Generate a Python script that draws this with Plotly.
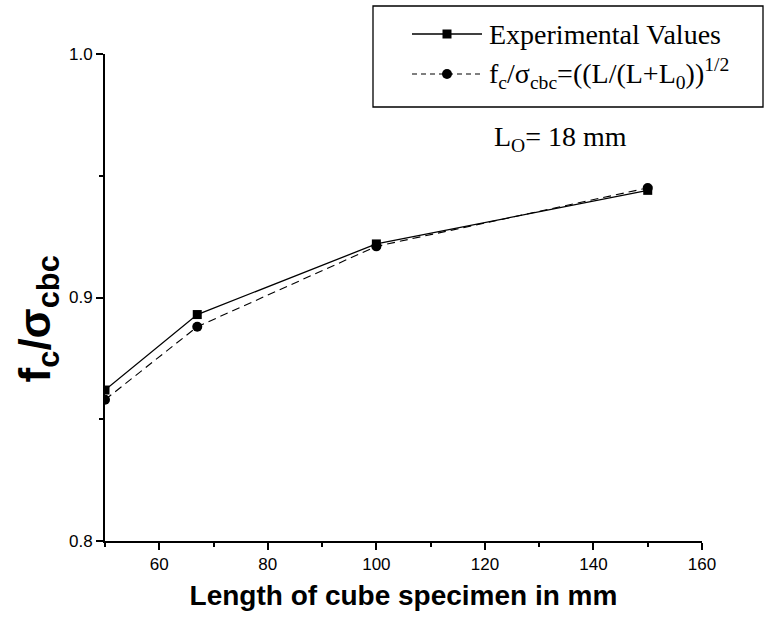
import plotly.graph_objects as go

# Data
length_mm = [50, 67, 100, 150]
experimental = [0.862, 0.893, 0.922, 0.944]
formula_vals = [0.858, 0.888, 0.921, 0.945]

x_ticks = [60, 80, 100, 120, 140, 160]
y_ticks = [0.8, 0.9, 1.0]

series_names = [
    "Experimental Values",
    "f<sub>c</sub>/σ<sub>cbc</sub>=((L/(L+L<sub>0</sub>))<sup>1/2</sup>",
]

serif = "Liberation Serif, Times New Roman, serif"
sans = "Liberation Sans, Arial, sans-serif"

W, H = 764, 623
ML, MR, MT, MB = 105, 62, 54, 82
PW, PH = W - ML - MR, H - MT - MB


def px_x(p):
    return (p - ML) / PW


def px_y(p):
    return 1 - (p - MT) / PH


DASH = "8px,5px"

fig = go.Figure()
fig.add_trace(go.Scatter(
    x=length_mm, y=experimental, mode="lines+markers",
    name=series_names[0], showlegend=False,
    line=dict(color="black", width=1.3),
    marker=dict(symbol="square", size=9, color="black"),
))
fig.add_trace(go.Scatter(
    x=length_mm, y=formula_vals, mode="lines+markers",
    name=series_names[1], showlegend=False,
    line=dict(color="black", width=1.1, dash=DASH),
    marker=dict(symbol="circle", size=10, color="black"),
))

# Legend box drawn as in the reference (long symbol lines, framed box)
row_y = [34, 74]
shapes = [
    dict(type="rect", xref="paper", yref="paper",
         x0=px_x(373), x1=px_x(763), y0=px_y(107), y1=px_y(6),
         line=dict(color="black", width=1.3), fillcolor="white", layer="above"),
]
annotations = []
for i, ry in enumerate(row_y):
    shapes.append(dict(type="line", xref="paper", yref="paper",
                       x0=px_x(412), x1=px_x(482), y0=px_y(ry), y1=px_y(ry),
                       line=dict(color="black", width=1.3 if i == 0 else 1.1,
                                 dash="solid" if i == 0 else "5px,4px"),
                       layer="above"))
    half = 4.5 if i == 0 else 5
    shapes.append(dict(type="rect" if i == 0 else "circle",
                       xref="paper", yref="paper",
                       xsizemode="pixel", ysizemode="pixel",
                       xanchor=px_x(447), yanchor=px_y(ry),
                       x0=-half, x1=half, y0=-half, y1=half,
                       line=dict(color="black", width=0), fillcolor="black",
                       layer="above"))
    annotations.append(dict(text=series_names[i], xref="paper", yref="paper",
                            x=px_x(487), y=px_y(ry), xanchor="left", yanchor="middle",
                            showarrow=False,
                            font=dict(family=serif, size=28, color="black")))

annotations += [
    dict(text="<b>f<sub>c</sub>/σ<sub>cbc</sub></b>", textangle=-90,
         xref="paper", yref="paper", x=px_x(38), y=0.455,
         xanchor="center", yanchor="middle", showarrow=False,
         font=dict(family=sans, size=44, color="black")),
    dict(text="L<sub>O</sub>= 18 mm",
         xref="paper", yref="paper", x=px_x(560), y=px_y(138),
         xanchor="center", yanchor="middle", showarrow=False,
         font=dict(family=serif, size=28, color="black")),
]

fig.update_layout(
    width=W, height=H,
    margin=dict(l=ML, r=MR, t=MT, b=MB),
    paper_bgcolor="white", plot_bgcolor="white",
    showlegend=False,
    xaxis=dict(
        range=[50, 160], tickvals=x_ticks,
        showgrid=False, zeroline=False,
        showline=True, linecolor="black", linewidth=2,
        ticks="outside", ticklen=7, tickwidth=2, tickcolor="black",
        minor=dict(dtick=10, tick0=50, ticks="outside", ticklen=4, tickwidth=2,
                   tickcolor="black", showgrid=False),
        tickfont=dict(family=sans, size=17, color="black"),
        title=dict(text="<b>Length of cube specimen in mm</b>",
                   font=dict(family=sans, size=28, color="black"), standoff=12),
    ),
    yaxis=dict(
        range=[0.8, 1.0], tickvals=y_ticks, tickformat=".1f",
        showgrid=False, zeroline=False,
        showline=True, linecolor="black", linewidth=2,
        ticks="outside", ticklen=7, tickwidth=2, tickcolor="black",
        minor=dict(dtick=0.05, tick0=0.8, ticks="outside", ticklen=4, tickwidth=2,
                   tickcolor="black", showgrid=False),
        tickfont=dict(family=sans, size=17, color="black"),
    ),
    shapes=shapes,
    annotations=annotations,
)

fig.write_html("out.html")
